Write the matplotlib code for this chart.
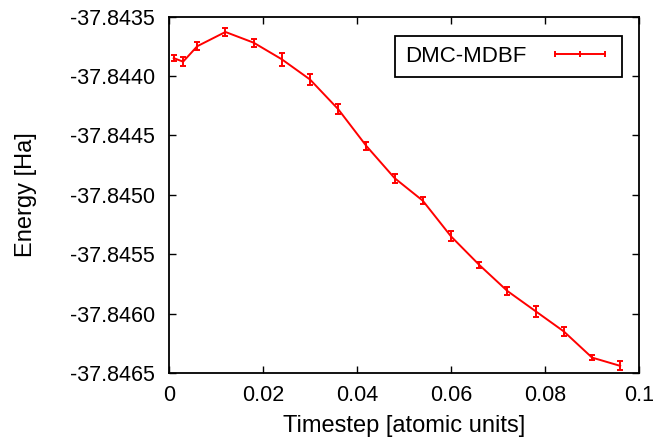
import numpy as np
import matplotlib
matplotlib.use("Agg")
import matplotlib.pyplot as plt
from matplotlib.lines import Line2D

plt.rcParams['font.family'] = ['Liberation Sans', 'DejaVu Sans']

# timestep vs DMC energy
timestep = [0.001, 0.003, 0.006, 0.012, 0.018, 0.024, 0.030, 0.036, 0.042,
            0.048, 0.054, 0.060, 0.066, 0.072, 0.078, 0.084, 0.090, 0.096]
energy = [-37.84385, -37.84388, -37.84375, -37.84363, -37.84372, -37.84386,
          -37.84403, -37.84428, -37.84459, -37.84486, -37.84505, -37.84535,
          -37.84559, -37.84581, -37.84598, -37.84615, -37.84637, -37.84644]
err = [0.000025, 0.000040, 0.000035, 0.000035, 0.000035, 0.000055,
       0.000045, 0.000042, 0.000033, 0.000037, 0.000027, 0.000042,
       0.000027, 0.000036, 0.000047, 0.000036, 0.000024, 0.000037]

fig = plt.figure(figsize=(6.71, 4.43), dpi=100)
ax = fig.add_axes([0.2519, 0.158, 0.7004, 0.8047])

ax.errorbar(timestep, energy, yerr=err, color='#ff0000', lw=1.4,
            elinewidth=1.4, capsize=2.2, capthick=1.4)

ax.set_xlim(0, 0.1)
ax.set_ylim(-37.8465, -37.8435)
ax.set_xticks([0, 0.02, 0.04, 0.06, 0.08, 0.1])
ax.set_xticklabels(['0', '0.02', '0.04', '0.06', '0.08', '0.1'])
yt = np.arange(-37.8465, -37.8434, 0.0005)
ax.set_yticks(yt)
ax.set_yticklabels(['%.4f' % v for v in yt])
ax.tick_params(direction='in', top=True, right=True, length=5, width=1,
               labelsize=15.5)
ax.tick_params(axis='y', pad=10)
ax.tick_params(axis='x', pad=8.5)
for s in ax.spines.values():
    s.set_linewidth(1.3)

ax.set_xlabel('Timestep [atomic units]', fontsize=17)
ax.set_ylabel('Energy [Ha]', fontsize=17)
ax.xaxis.set_label_coords(0.5, -0.1187)
ax.yaxis.set_label_coords(-0.2815, 0.5)

# gnuplot-style legend sample: horizontal bar with ticks
handle = Line2D([], [], color='#ff0000', lw=1.4, marker='|', markersize=5,
                markeredgewidth=1.4)
leg = ax.legend([handle], ['DMC-MDBF'], loc='upper right',
                bbox_to_anchor=(0.9638, 0.9453), borderaxespad=0,
                markerfirst=False, numpoints=3, fancybox=False,
                edgecolor='black', fontsize=16, handlelength=2.88,
                handletextpad=0.95, borderpad=0.45, framealpha=1)
leg.get_frame().set_linewidth(1.3)

fig.savefig('out.png', dpi=100)
